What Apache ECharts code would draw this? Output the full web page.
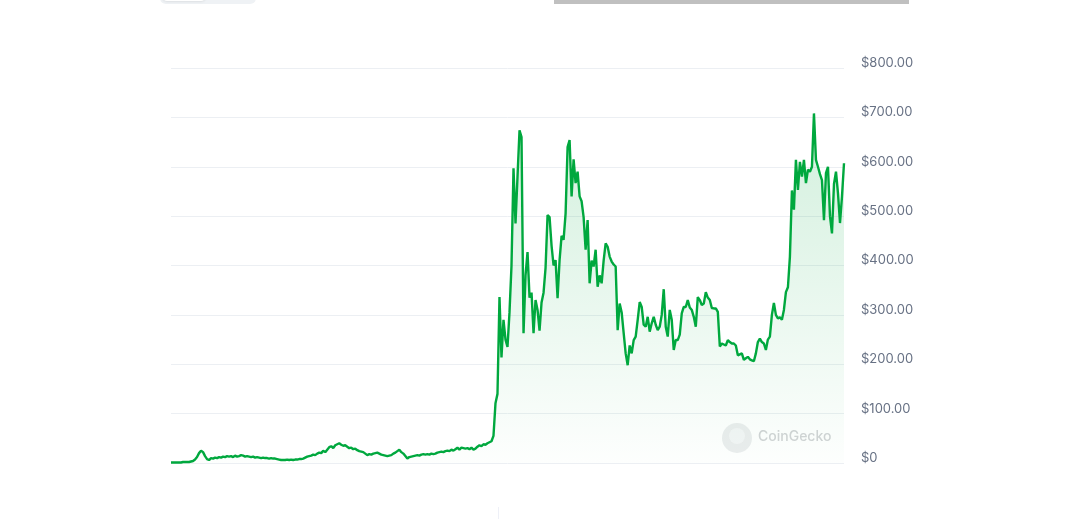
<!DOCTYPE html>
<html>
<head>
<meta charset="utf-8">
<script src="https://cdn.jsdelivr.net/npm/echarts@6/dist/echarts.min.js"></script>
<style>
html,body{margin:0;padding:0;background:#fff;}
#c{width:1080px;height:519px;}
</style>
</head>
<body>
<div id="c"></div>
<script>
// Price series, one sample per step
const pricesEarly = [
1,1,1,1,1,1,2,2,2,2, 3,4,7,12,20,25,22,14,8,6,
10,9,11,10,12,11,13,12,14,13, 14,12,15,13,14,16,15,13,14,13,
12,13,11,12,11,10,11,10,10,9, 10,9,9,8,7,6,6,6,7,6,
7,6,7,7,8,8,9,11,13,14, 15,17,16,19,21,20,25,22,27,32,
34,30,36,38,40,37,35,36,33,30, 31,28,29,26,24,23,22,19,16,18,
17,19,20,21,19,17,16,15,14,15, 16,19,21,24,27,22,19,14,9,12,
13,14,15,16,15,17,18,17,18,17, 19,18,19,21,22,23,22,24,25,24,
27,25,28,31,27,31,30,29,30,28, 31,27,29,33,36,34,38,37,40,42
];
const pricesLate = [
44,55,121,140,336,214,290,250,235,305,
400,597,485,580,674,660,263,380,427,335,
345,263,330,310,268,325,345,395,502,498,
440,400,411,334,411,460,452,505,640,654,
540,615,567,590,540,530,498,432,492,364,
410,398,432,357,380,364,410,445,438,418,
408,402,398,269,323,305,263,222,198,238,
222,249,256,290,326,316,280,276,296,266,
283,296,280,269,276,300,352,276,256,310,
290,229,249,249,260,303,316,316,330,315,
310,296,276,336,330,320,323,346,335,330,
314,313,313,306,236,242,240,238,249,245,
242,242,238,218,220,222,209,212,215,210,
208,206,222,245,252,245,242,229,250,256,
300,324,300,293,295,290,310,346,356,418,
552,513,614,553,610,580,614,567,594,590,
600,708,614,600,585,573,492,587,600,500,
465,565,590,546,486,540,607
];
const prices = pricesEarly.concat(pricesLate);
const steps = prices.map((_, i) => i);
const yTicks = [0, 100, 200, 300, 400, 500, 600, 700, 800];

const chart = echarts.init(document.getElementById('c'), null, {renderer: 'canvas'});
chart.setOption({
  animation: false,
  backgroundColor: '#ffffff',
  grid: {left: 171, right: 236, top: 68, bottom: 56},
  xAxis: {
    type: 'category',
    data: steps,
    boundaryGap: false,
    axisLine: {show: false},
    axisTick: {show: false},
    axisLabel: {show: false},
    splitLine: {show: false}
  },
  yAxis: {
    type: 'value',
    position: 'right',
    min: yTicks[0],
    max: yTicks[yTicks.length - 1],
    interval: 100,
    axisLine: {show: false},
    axisTick: {show: false},
    splitLine: {lineStyle: {color: '#eceff3', width: 1}},
    axisLabel: {
      margin: 17,
      color: '#677184',
      fontFamily: 'Inter, "Noto Sans", sans-serif',
      fontSize: 13,
      verticalAlign: 'bottom',
      lineHeight: 10,
      formatter: v => v === 0 ? '$0' : '$' + v.toFixed(2)
    }
  },
  series: [{
    type: 'line',
    data: prices,
    symbol: 'none',
    smooth: false,
    lineStyle: {color: '#00a83e', width: 2.4},
    itemStyle: {color: '#00a83e'},
    areaStyle: {
      color: new echarts.graphic.LinearGradient(0, 0, 0, 1, [
        {offset: 0, color: 'rgba(0,168,62,0.25)'},
        {offset: 1, color: 'rgba(0,168,62,0.01)'}
      ])
    }
  }],
  graphic: [
    {type: 'rect', left: 160, top: -8, shape: {width: 96, height: 12, r: 6}, style: {fill: '#eff2f5'}},
    {type: 'rect', left: 163, top: -8, shape: {width: 42, height: 9, r: 4}, style: {fill: '#ffffff', shadowBlur: 3, shadowColor: 'rgba(0,0,0,0.15)'}},
    {type: 'rect', left: 554, top: 0, shape: {width: 355, height: 4}, style: {fill: '#c0c0c0'}},
    {type: 'rect', left: 498, top: 507, shape: {width: 1, height: 12}, style: {fill: '#eef0f7'}},
    {type: 'circle', left: 722, top: 423, shape: {r: 15}, style: {fill: '#e6e8ea', opacity: 0.8}},
    {type: 'circle', left: 729, top: 428, shape: {r: 8}, style: {fill: '#f4f5f6', opacity: 0.9}},
    {type: 'text', left: 758, top: 430, style: {text: 'CoinGecko', fill: '#d2d4d6', font: '500 14px Inter, "Noto Sans", sans-serif'}}
  ]
});
</script>
</body>
</html>
